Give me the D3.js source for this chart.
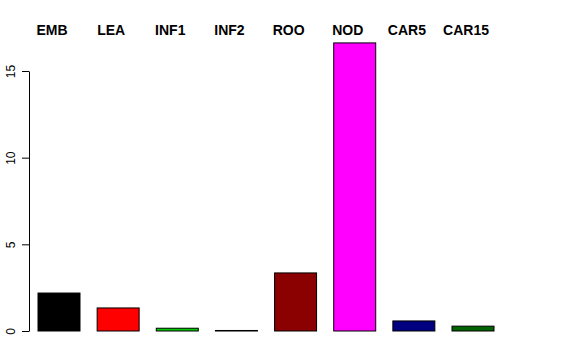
<!DOCTYPE html>
<html lang="en">
<head>
    <meta charset="UTF-8">
    <title>Bar chart</title>
    <script src="https://d3js.org/d3.v7.min.js"></script>
    <style>
        body { margin: 0; background: #fff; }
        svg { display: block; font-family: "Liberation Sans", Arial, sans-serif; }
        .cat-label { font-size: 14px; font-weight: bold; fill: #000; }
        .axis text { font-size: 12px; fill: #000; }
        .axis path, .axis line { stroke: #000; }
    </style>
</head>
<body>
    <svg id="chart" width="576" height="360"></svg>
    <script>
        const categories = ["EMB", "LEA", "INF1", "INF2", "ROO", "NOD", "CAR5", "CAR15"];
        const values = [2.19, 1.33, 0.16, 0.03, 3.35, 16.62, 0.58, 0.28];
        const colors = ["#000000", "#ff0000", "#00cd00", "#0000ff", "#8b0000", "#ff00ff", "#000080", "#006400"];
        const yTicks = [0, 5, 10, 15];

        const svg = d3.select("#chart");

        const x = d3.scaleBand()
            .domain(categories)
            .range([38, 494])
            .paddingInner(0.29)
            .paddingOuter(0);

        const y = d3.scaleLinear()
            .domain([0, 15])
            .range([331, 71]);

        svg.selectAll(".bar")
            .data(categories)
            .enter().append("rect")
            .attr("class", "bar")
            .attr("x", d => x(d))
            .attr("y", (d, i) => y(values[i]))
            .attr("width", x.bandwidth())
            .attr("height", (d, i) => y(0) - y(values[i]))
            .attr("fill", (d, i) => colors[i])
            .attr("stroke", "#000")
            .attr("stroke-width", 1);

        // category names across the top, a bit left of each bar's centre
        svg.selectAll(".cat-label")
            .data(categories)
            .enter().append("text")
            .attr("class", "cat-label")
            .attr("x", d => x(d) + x.bandwidth() / 2 - 7)
            .attr("y", 35)
            .attr("text-anchor", "middle")
            .text(d => d);

        const axis = svg.append("g")
            .attr("class", "axis")
            .attr("transform", "translate(29,0)")
            .call(d3.axisLeft(y).tickValues(yTicks).tickSize(7).tickSizeOuter(0));

        axis.selectAll(".tick text")
            .attr("x", 0)
            .attr("y", 0)
            .attr("dy", "0")
            .attr("text-anchor", "middle")
            .attr("transform", "translate(-14,0) rotate(-90)");
    </script>
</body>
</html>
